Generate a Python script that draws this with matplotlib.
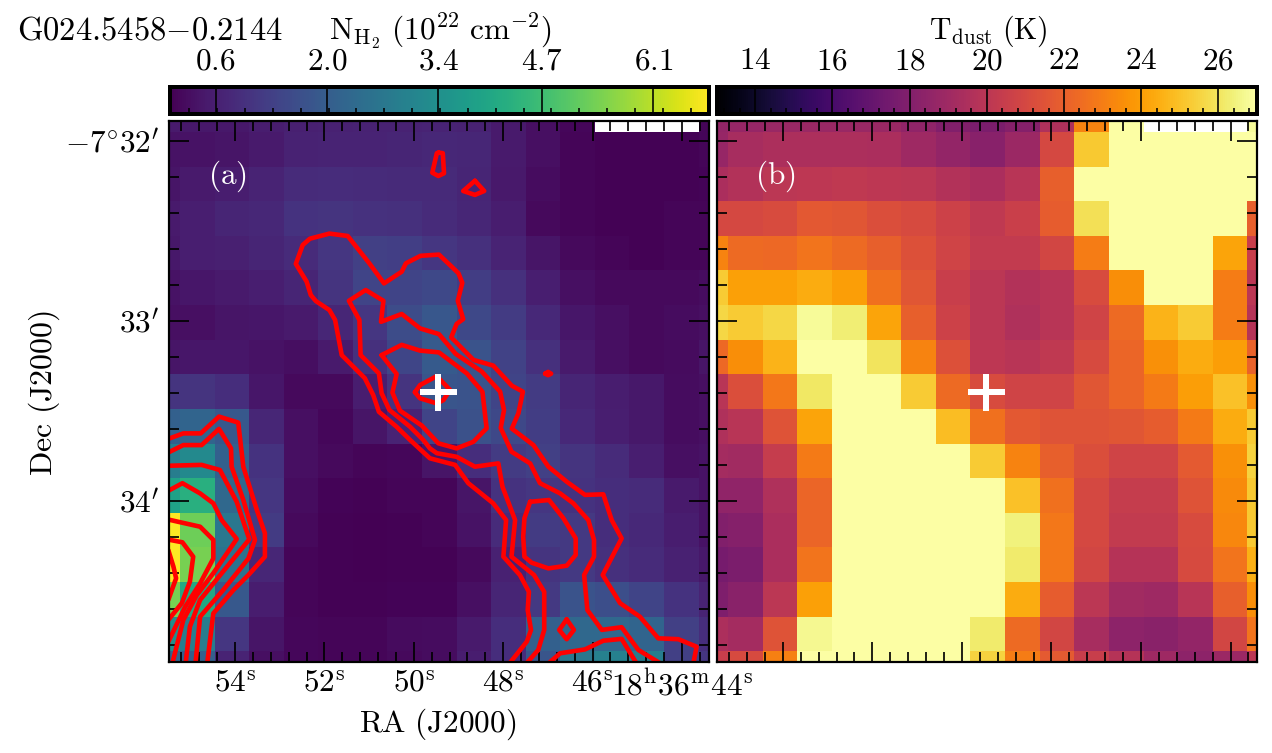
import numpy as np
import matplotlib
matplotlib.use('Agg')
import matplotlib.pyplot as plt
from matplotlib.cm import ScalarMappable
from matplotlib.colors import Normalize

plt.rcParams['mathtext.fontset'] = 'cm'
plt.rcParams['font.family'] = ['cmr10', 'DejaVu Serif']
plt.rcParams['axes.unicode_minus'] = False

nan = np.nan
# column density, 10^22 cm^-2 (rows north to south, columns east to west)
nh2 = [
 [.50,.45,.45,.55,.62,.65,.68,.68,.70,.68,.50,.30,.15,nan,nan,nan,.10],
 [.35,.35,.40,.50,.68,.70,.70,.72,.78,.75,.52,.30,.10,.05,.05,.05,.10],
 [.40,.50,.55,.70,.85,.88,.85,.82,.82,.72,.48,.25,.10,.05,.05,.05,.08],
 [.50,.60,.72,.78,1.0,1.05,.98,.95,.85,.75,.55,.20,.10,.05,.05,.10,.10],
 [.45,.60,.62,.72,.85,1.1,1.3,1.28,1.1,.95,.70,.40,.20,.10,.05,.10,.12],
 [.35,.42,.52,.58,.72,1.05,1.4,1.4,1.5,1.25,.95,.60,.30,.20,.20,.20,.25],
 [.30,.30,.40,.42,.50,.75,1.1,1.6,1.85,1.5,1.2,.80,.42,.30,.20,.25,.30],
 [.40,.42,.42,.35,.28,.50,.95,1.45,1.95,1.75,1.35,.95,.50,.30,.20,.22,.40],
 [1.05,1.05,.90,.42,.20,.20,.55,1.05,1.8,1.75,1.4,1.2,.72,.55,.45,.25,.30],
 [2.1,2.2,1.9,.75,.30,.15,.40,.70,1.4,1.7,1.5,1.25,.80,.60,.45,.25,.30],
 [2.9,3.2,2.1,1.0,.30,.20,.12,.15,.40,.90,1.2,1.3,1.05,.85,.60,.30,.35],
 [3.9,4.3,2.3,1.1,.25,.08,.05,.10,.12,.40,1.0,1.1,1.0,.90,.85,.50,.35],
 [6.8,5.3,2.7,1.2,.18,.06,.04,.06,.10,.35,.85,1.2,1.15,.90,.80,.55,.35],
 [6.8,5.4,2.6,.75,.12,.05,.04,.06,.07,.20,.65,1.05,1.15,.95,.85,.65,.45],
 [5.4,4.1,1.9,.55,.12,.05,.05,.08,.08,.30,.72,1.15,1.75,1.65,1.4,1.0,.70],
 [3.4,2.9,1.1,.40,.15,.10,.12,.22,.25,.50,.90,2.1,2.3,2.3,2.2,1.3,.90],
 [2.2,2.1,.70,.30,.15,.10,.10,.20,.25,.55,.90,1.8,2.7,3.0,2.9,1.3,1.1],
]
# dust temperature, K
tdust = [
 [18.6,18.7,18.8,18.8,18.8,18.8,18.5,18.0,17.8,18.1,19.6,23.2,27,nan,nan,nan,26.8],
 [18.7,19.3,19.5,19.5,19.5,19.4,19.0,18.6,18.2,18.9,21.0,25.2,27,27,27,27,27],
 [19.4,19.7,20.0,20.1,20.2,20.1,20.0,19.7,19.4,19.9,22.0,27,27,27,27,27,27],
 [21.0,21.0,21.2,21.7,21.6,21.3,21.1,20.7,20.2,20.6,21.9,25.9,27,27,27,27,22.0],
 [23.2,22.4,22.3,22.7,22.4,22.0,21.4,20.8,20.3,20.3,20.9,23.0,27,27,27,24.2,20.5],
 [25.3,24.1,24.1,24.4,24.0,22.6,21.6,20.5,20.0,19.7,19.9,21.2,23.5,27,27,23.0,20.0],
 [25.6,25.3,25.6,26.8,26.3,24.2,22.0,20.7,20.0,19.6,19.9,20.8,22.4,24.6,25.3,23.0,19.8],
 [22.3,23.5,24.6,27,27,26.0,23.2,21.4,20.1,19.9,20.2,21.1,22.2,23.6,24.4,24.0,22.1],
 [19.9,21.3,22.8,26.1,27,27,25.3,22.4,21.2,20.8,20.8,21.6,22.2,22.9,24.0,25.0,23.6],
 [19.6,19.9,21.5,24.2,27,27,27,24.9,22.6,21.7,21.5,21.5,21.6,21.9,22.9,24.4,25.3],
 [19.2,19.1,20.4,22.9,27,27,27,27,25.3,23.2,22.0,21.3,20.8,20.8,21.8,23.6,25.5],
 [18.5,18.5,19.6,22.2,27,27,27,27,27,25.0,22.6,21.0,20.4,20.4,21.5,23.4,25.2],
 [18.0,18.1,19.4,22.2,27,27,27,27,27,26.4,22.8,21.0,20.3,20.3,21.2,23.3,25.2],
 [17.6,17.8,19.4,22.7,27,27,27,27,27,26.2,22.8,20.9,19.8,19.8,21.1,22.7,24.5],
 [17.9,18.3,20.0,24.1,27,27,27,27,27,24.4,21.9,20.0,19.1,19.0,19.9,22.0,23.5],
 [19.5,19.2,21.5,26.7,27,27,27,27,26.2,22.4,20.9,19.3,18.4,18.3,18.6,20.9,22.7],
 [20.5,21.1,23.1,27,27,27,27,27,25.5,23.0,21.8,20.5,19.8,19.0,18.4,18.9,20.0],
]
# red contours: (east, north) sky offsets from the cross, arcsec
contours = [
 [(-0.2,79.8),(-1.6,79.6),(-2.0,72.9),(-0.1,72.0),(1.9,73.1),(0.4,79.6),(-0.2,79.8)],
 [(-12.3,70.4),(-15.4,67.0),(-12.3,65.7),(-8.4,67.0),(-12.3,70.4)],
 [(-35.7,6.1),(-36.7,6.7),(-37.7,6.1),(-36.7,5.6),(-35.7,6.1)],
 [(-23.4,-91),(-29.6,-83.2),(-31.0,-79.3),(-29.9,-72.7),(-30.3,-66.6),(-27.3,-61.0),(-21.8,-54.9),
  (-22.7,-42.7),(-18.4,-37.1),(-10.1,-30.4),(-5.7,-24.3),(2.7,-22.1),(9.3,-16.0),(13.8,-11.6),
  (19.7,-6.6),(21.6,-1.0),(24.4,4.6),(32.1,12.3),(34.3,24.0),(36.2,27.3),(40.7,30.3),(42.4,32.3),
  (43.8,36.8),(47.4,42.7),(45.1,49.0),(42.7,51.1),(36.2,52.8),(30.1,52.0),(22.9,42.9),(18.0,36.2),
  (12.1,40.1),(10.7,42.9),(5.8,45.4),(-0.3,45.8),(-4.0,42.3),(-6.8,39.6),(-8.1,36.4),(-6.6,30.4),
  (-8.4,24.3),(-6.2,22.7),(-4.4,18.2),(-11.8,10.7),(-18.4,8.8),(-24.6,2.1),(-28.3,0.1),(-26.8,-7.1),
  (-24.6,-12.2),(-31.8,-17.7),(-36.8,-24.9),(-42.9,-29.9),(-49.0,-34.3),(-55.1,-34.1),(-57.9,-42.7),
  (-61.2,-48.8),(-54.9,-61.0),(-60.7,-70.4),(-67.3,-74.9),(-73.4,-82.1),(-80.1,-82.4),(-86.2,-84.9),(-85.0,-91)],
 [(-29.0,-91),(-33.4,-86.0),(-35.4,-79.3),(-35.4,-66.6),(-32.0,-61.0),(-24.5,-54.9),(-25.7,-42.7),
  (-21.5,-31.6),(-20.1,-23.8),(-12.3,-24.9),(-6.2,-21.6),(0.4,-20.4),(2.7,-18.8),(4.9,-16.0),(9.3,-11.6),
  (16.2,-6.0),(18.8,-0.4),(19.7,6.2),(25.8,12.3),(26.2,24.0),(29.7,30.4),(24.1,34.0),(18.2,30.4),
  (19.0,23.4),(12.1,26.0),(6.0,21.2),(-0.3,19.3),(-5.9,12.7),(-14.6,6.8),(-20.7,0.1),(-22.0,-6.0),
  (-20.9,-12.0),(-24.5,-19.9),(-30.7,-23.8),(-34.0,-30.4),(-40.7,-33.8),(-45.1,-37.1),(-50.1,-42.7),
  (-52.0,-49.3),(-52.0,-54.9),(-48.7,-61.0),(-49.8,-72.7),(-54.6,-79.3),(-61.2,-78.4),(-66.8,-86.0),(-75.0,-91)],
 [(18.8,12.3),(12.1,15.7),(6.0,13.8),(-0.3,13.2),(-9.6,6.2),(-14.8,0.1),(-16.2,-12.1),(-11.8,-16.6),
  (-6.2,-18.8),(-0.1,-17.1),(5.4,-11.2),(12.7,-6.2),(15.2,-0.2),(13.8,6.0),(18.8,12.3)],
 [(7.7,-0.1),(6.0,2.3),(0.4,5.3),(-4.0,0.7),(-1.8,-2.7),(0.4,-3.8),(6.0,-2.1),(7.7,-0.1)],
 [(-30.7,-36.6),(-37.0,-36.0),(-41.8,-42.1),(-45.9,-48.8),(-45.9,-54.3),(-42.9,-57.9),(-36.8,-58.8),
  (-31.2,-56.9),(-28.8,-54.9),(-28.4,-48.2),(-28.8,-42.1),(-30.7,-36.6)],
 [(-42.9,-75.8),(-45.3,-79.3),(-42.9,-82.4),(-40.4,-79.3),(-42.9,-75.8)],
 [(-36.2,-91),(-40.7,-87.1),(-49.0,-85.8),(-55.1,-82.9),(-61.2,-82.3),(-66.5,-91)],
 [(90.4,-15.8),(84.9,-13.8),(79.1,-13.8),(73.0,-8.2),(66.6,-10.2),(64.9,-24.9),(60.4,-39.3),(57.7,-47.1),
  (57.7,-54.9),(63.2,-61.0),(68.2,-66.0),(74.9,-73.8),(77.0,-91)],
 [(90.4,-20.4),(84.9,-17.7),(78.8,-17.7),(73.0,-12.3),(69.0,-18.8),(68.8,-24.9),(64.9,-36.0),(61.0,-49.3),
  (63.2,-55.5),(71.6,-66.0),(79.3,-74.9),(80.9,-91)],
 [(90.4,-24.6),(78.8,-24.3),(72.7,-26.0),(67.1,-36.6),(62.9,-49.1),(72.1,-60.4),(79.3,-69.3),(82.7,-78.2),(84.2,-91)],
 [(90.4,-33.2),(85.2,-30.4),(79.3,-33.8),(74.9,-37.1),(72.1,-42.7),(67.1,-49.0),(74.9,-60.4),(80.4,-67.7),
  (84.9,-76.0),(88.7,-91)],
 [(90.4,-42.4),(86.0,-43.4),(79.3,-44.9),(74.9,-49.3),(74.9,-55.5),(79.3,-63.8),(84.3,-71.6),(90.4,-84.3)],
 [(90.4,-49.1),(85.2,-50.1),(81.6,-54.9),(82.7,-63.2),(85.4,-70.4),(90.4,-76.6)],
 [(89.9,-52.7),(88.2,-58.2),(87.3,-62.1),(89.9,-69.3)],
]
# axis values
ra0, dec0, sec_scale = 49.458, 33.394, 14.9      # cross position: RA sec, Dec arcmin; arcsec per RA sec
ra_major = [54, 52, 50, 48, 46, 44]
ra_labels = ['54^{\\mathrm{s}}', '52^{\\mathrm{s}}', '50^{\\mathrm{s}}', '48^{\\mathrm{s}}', '46^{\\mathrm{s}}',
             '18^{\\mathrm{h}}36^{\\mathrm{m}}44^{\\mathrm{s}}']
ra_minor = [55.2 - 0.4 * i for i in range(30)]
dec_major = [32, 33, 34]
dec_labels = ["$-7^{\\circ}32'$", "$33'$", "$34'$"]
dec_minor = [32 + 0.2 * i for i in range(15)]
nh2_ticks = [0.6, 2.0, 3.4, 4.7, 6.1]
nh2_minor = [0.27 + 0.35 * i for i in range(19)]
t_ticks = [14, 16, 18, 20, 22, 24, 26]
t_minor = [13.2 + 0.4 * i for i in range(35)]

W, H = 1272, 753
def rect(x0, y0, x1, y1):
    return [x0 / W, 1 - y1 / H, (x1 - x0) / W, (y1 - y0) / H]
def p(v):
    return v * 0.72

FS = 22.5
fig = plt.figure(figsize=(W / 100, H / 100), dpi=100)
axa = fig.add_axes(rect(169, 121, 708.7, 661.7))
axb = fig.add_axes(rect(716.7, 121, 1257.3, 661.7))
ext = [97.5, -98.27, -97.87, 98.2]
norm_a = Normalize(0.02, 6.8)
norm_b = Normalize(13, 27)
axa.imshow(np.array(nh2), cmap='viridis', norm=norm_a, extent=ext, aspect='auto', interpolation='nearest')
axb.imshow(np.array(tdust), cmap='inferno', norm=norm_b, extent=ext, aspect='auto', interpolation='nearest')

for c in contours:
    xy = np.array(c)
    axa.plot(xy[:, 0], xy[:, 1], color='red', lw=p(4.6), solid_joinstyle='round', solid_capstyle='round')

for ax in (axa, axb):
    ax.plot([0], [0], marker='+', color='white', ms=p(37), mew=p(6), ls='none', zorder=5)
    ax.set_xlim(89.67, -90.23)
    ax.set_ylim(-89.9, 90.33)
    ax.set_xticks([(r - ra0) * sec_scale for r in ra_major])
    ax.set_xticks([(r - ra0) * sec_scale for r in ra_minor if r > 43.5], minor=True)
    ax.set_yticks([(dec0 - d) * 60 for d in dec_major])
    ax.set_yticks([(dec0 - d) * 60 for d in dec_minor], minor=True)
    ax.tick_params(which='major', direction='in', length=p(20), width=p(1.7), top=True, right=True)
    ax.tick_params(which='minor', direction='in', length=p(10), width=p(1.7), top=True, right=True)
    for s in ax.spines.values():
        s.set_linewidth(p(2.2))

axa.set_xticklabels(['$' + s + '$' for s in ra_labels], fontsize=FS)
axa.set_yticklabels(dec_labels, fontsize=FS)
axa.tick_params(axis='x', which='major', pad=6)
axa.tick_params(axis='y', which='major', pad=7)
axb.set_xticklabels([])
axb.set_yticklabels([])

fig.text(227 / W, 1 - 176 / H, r'$\mathrm{(a)}$', color='white', fontsize=FS, ha='center', va='center')
fig.text(775 / W, 1 - 176 / H, r'$\mathrm{(b)}$', color='white', fontsize=FS, ha='center', va='center')

# colour bars
caxa = fig.add_axes(rect(169.5, 87, 709, 114))
caxb = fig.add_axes(rect(716.5, 87, 1257, 114))
for cax, cmap, norm, maj, mnr, labs in (
        (caxa, 'viridis', norm_a, nh2_ticks, nh2_minor, ['%.1f' % v for v in nh2_ticks]),
        (caxb, 'inferno', norm_b, t_ticks, t_minor, ['%d' % v for v in t_ticks])):
    cb = fig.colorbar(ScalarMappable(norm=norm, cmap=cmap), cax=cax, orientation='horizontal')
    cb.outline.set_linewidth(p(4))
    cax.set_xticks(maj)
    cax.set_xticklabels(['$\\mathrm{' + s + '}$' for s in labs], fontsize=FS)
    cax.set_xticks(mnr, minor=True)
    cax.tick_params(axis='x', which='major', direction='in', length=p(27), width=p(1.6),
                    bottom=True, top=False, labelbottom=False, labeltop=True, pad=8.5)
    cax.tick_params(axis='x', which='minor', direction='in', length=p(6), width=p(1.6),
                    bottom=True, top=False)

fig.text(17 / W, 1 - 39 / H, r'$\mathrm{G024.5458{-}0.2144}$', fontsize=FS + 1, ha='left', va='baseline')
fig.text(440 / W, 1 - 39 / H, r'$\mathrm{N_{H_2}\ (10^{22}\ cm^{-2})}$', fontsize=FS, ha='center', va='baseline')
fig.text(988 / W, 1 - 39 / H, r'$\mathrm{T_{dust}\ (K)}$', fontsize=FS - 1, ha='center', va='baseline')
fig.text(438 / W, 1 - 724 / H, r'$\mathrm{RA\ (J2000)}$', fontsize=FS, ha='center', va='center')
fig.text(44 / W, 1 - 393 / H, r'$\mathrm{Dec\ (J2000)}$', fontsize=FS + 0.5, ha='center', va='center', rotation=90)

fig.savefig('out.png', dpi=100)
